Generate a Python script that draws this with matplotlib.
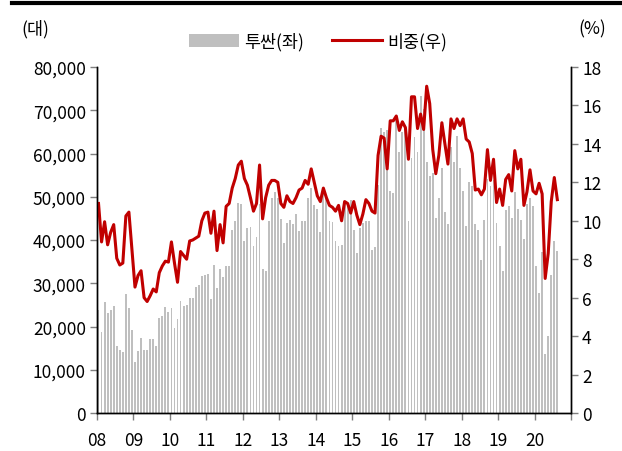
import matplotlib
matplotlib.use("Agg")
import matplotlib.pyplot as plt
from matplotlib.patches import Patch
from matplotlib.lines import Line2D
import numpy as np

plt.rcParams['font.family'] = ['Noto Sans CJK KR', 'DejaVu Sans']

# Monthly data, Jan 2008 .. Aug 2020
tucson = [23900, 18800, 25700, 23100, 23700, 24800, 15400, 14600, 14200, 27500,
          24200, 19300, 11700, 14400, 17300, 14600, 14600, 17100, 17000, 15600,
          22000, 22500, 24600, 23400, 24200, 19700, 21700, 26000, 24700, 25000,
          26500, 26500, 29100, 29500, 31600, 31800, 32200, 26400, 34200, 29000,
          33300, 31400, 33900, 34100, 42200, 44400, 48500, 48400, 39700, 42800,
          42900, 38700, 40600, 48300, 33300, 32800, 44400, 49600, 51000, 49600,
          44800, 39200, 44000, 44600, 43700, 46000, 42100, 44400, 44400, 49600,
          52100, 48000, 47200, 41900, 51500, 49600, 44500, 44200, 39800, 38500,
          38800, 48600, 48200, 49300, 42300, 36900, 42800, 44000, 44500, 44300,
          37800, 38300, 52700, 65800, 64900, 65400, 51400, 50800, 68700, 60300,
          64900, 66000, 44500, 58900, 63700, 60400, 73400, 70400, 58000, 54700,
          55500, 45000, 49600, 56600, 46400, 43700, 61400, 58000, 64000, 56600,
          51300, 43300, 53300, 52600, 43700, 42400, 35400, 44700, 54100, 52400,
          53900, 43900, 38700, 32800, 46900, 47900, 45000, 51000, 47200, 44700,
          40200, 48300, 49600, 47900, 34100, 27700, 37300, 13600, 17900, 31800,
          39800, 37500]

share = [10.9, 8.9, 9.95, 8.75, 9.4, 9.8, 8.05, 7.7, 7.8, 10.25,
         10.45, 8.5, 6.55, 7.15, 7.4, 6.0, 5.8, 6.1, 6.45, 6.3,
         7.3, 7.65, 7.9, 7.85, 8.9, 7.8, 6.8, 8.4, 8.2, 8.0,
         8.95, 9.0, 9.1, 9.2, 10.0, 10.4, 10.45, 9.35, 10.5, 8.45,
         9.8, 8.85, 10.75, 10.9, 11.7, 12.2, 12.9, 13.1, 12.2, 11.85,
         11.2, 10.5, 10.9, 12.9, 10.1, 11.2, 11.85, 12.1, 12.1, 12.0,
         10.9, 10.7, 11.3, 11.0, 10.9, 11.2, 11.6, 11.7, 12.1, 11.9,
         12.7, 12.0, 11.3, 11.0, 11.7, 11.2, 10.8, 10.7, 10.5, 10.8,
         10.0, 11.0, 10.9, 10.4, 11.0, 10.3, 9.8, 10.35, 11.1, 10.9,
         10.5, 10.4, 13.4, 14.4, 14.3, 12.7, 15.2, 15.2, 15.45, 14.7,
         15.15, 14.85, 13.2, 16.45, 16.45, 14.8, 15.55, 14.75, 17.0, 16.1,
         13.7, 12.45, 13.4, 15.1, 14.0, 12.95, 15.3, 14.8, 15.3, 14.95,
         15.3, 14.25, 14.1, 13.5, 11.6, 11.65, 11.35, 11.65, 13.7, 12.1,
         13.2, 10.95, 11.65, 10.8, 12.15, 12.4, 11.55, 13.65, 12.7, 13.2,
         10.8, 11.5, 12.65, 11.55, 11.4, 11.95, 11.4, 7.0, 8.3, 11.0,
         12.25, 11.1]

year_labels = ['08', '09', '10', '11', '12', '13', '14', '15', '16', '17', '18', '19', '20']
left_ticks = [0, 10000, 20000, 30000, 40000, 50000, 60000, 70000, 80000]
right_ticks = [0, 2, 4, 6, 8, 10, 12, 14, 16, 18]

bar_color = '#BFBFBF'
line_color = '#C00000'
fs = 12.5

fig = plt.figure(figsize=(6.22, 4.52), dpi=100)
ax = fig.add_axes([97/622, 38/452, 474/622, 346/452])
ax2 = ax.twinx()

x = np.arange(len(tucson))
ax.bar(x, tucson, width=0.6, color=bar_color, edgecolor='none')
ax2.plot(np.arange(len(share)), share, color=line_color, lw=2.2, solid_joinstyle='round')

n_months = 12 * len(year_labels)
ax.set_xlim(-0.5, n_months - 0.5)
ax.set_ylim(0, 80000)
ax2.set_ylim(0, 18)

xt = [12 * k - 0.5 for k in range(len(year_labels) + 1)]
ax.set_xticks(xt)
ax.set_xticklabels(year_labels + [''])
ax.set_yticks(left_ticks)
ax.set_yticklabels([f'{v:,}' for v in left_ticks])
ax2.set_yticks(right_ticks)
ax2.set_yticklabels([str(v) for v in right_ticks])

for a in (ax, ax2):
    a.spines['top'].set_visible(False)
    for s in ('left', 'right', 'bottom'):
        a.spines[s].set_color('black')
        a.spines[s].set_linewidth(1.0)
    a.tick_params(direction='out', length=5, width=1, color='#7F7F7F',
                  labelsize=fs, labelcolor='black')
ax.tick_params(axis='x', pad=8)
ax.tick_params(axis='y', pad=3)
ax2.tick_params(axis='y', pad=3)

fig.text(35/622, 1 - 29/452, '(대)', fontsize=fs, ha='center', va='center')
fig.text(592/622, 1 - 29/452, '(%)', fontsize=fs, ha='center', va='center')

handles = [Patch(facecolor=bar_color, edgecolor='none'),
           Line2D([0], [0], color=line_color, lw=2.2)]
fig.legend(handles, ['투싼(좌)', '비중(우)'], loc='center', bbox_to_anchor=(318/622, 1 - 42/452),
           ncol=2, frameon=False, fontsize=fs, handlelength=2.9, handleheight=0.75,
           columnspacing=1.6, handletextpad=0.3)

fig.add_artist(Line2D([12/622, 1.0], [1 - 4/452, 1 - 4/452], color='black', lw=3,
                      transform=fig.transFigure))

fig.savefig('out.png', dpi=100)
